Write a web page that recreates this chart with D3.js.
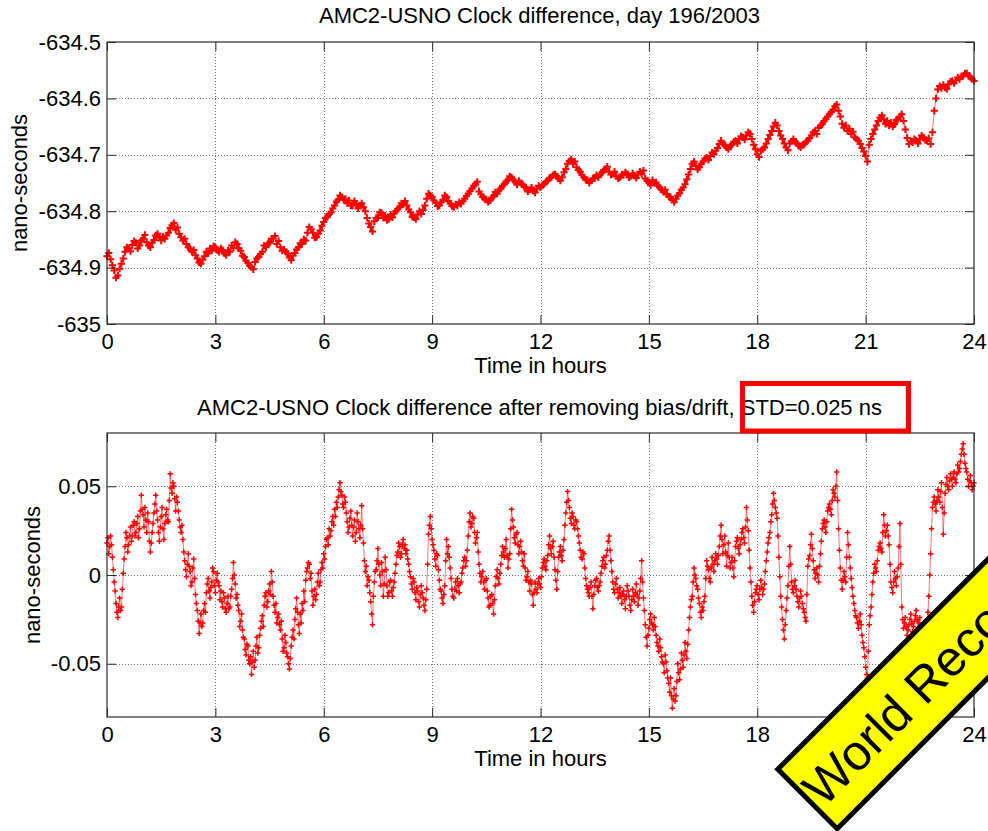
<!DOCTYPE html>
<html>
<head>
<meta charset="utf-8">
<script src="https://cdn.jsdelivr.net/npm/d3@7"></script>
<style>
  body { margin: 0; background: #fff; }
  svg { display: block; font-family: "Liberation Sans", Arial, sans-serif; }
</style>
</head>
<body>
<svg id="chart" width="988" height="831"></svg>
<script>
// ---- data ----
const hourTicks = [0, 3, 6, 9, 12, 15, 18, 21, 24];

// upper panel: raw clock difference (ns), one sample every 0.05 h from 0 to 24 h
const clockStep = 0.05;
const clockDiff = [
  -634.880, -634.874, -634.885, -634.896, -634.905, -634.918, -634.914, -634.902, -634.893, -634.884, -634.872, -634.864, -634.866, -634.871, -634.860, -634.853, -634.856, -634.866, -634.861, -634.852,
  -634.849, -634.842, -634.855, -634.861, -634.864, -634.856, -634.851, -634.843, -634.840, -634.847, -634.852, -634.845, -634.849, -634.843, -634.838, -634.830, -634.825, -634.821, -634.833, -634.829,
  -634.840, -634.846, -634.852, -634.849, -634.858, -634.864, -634.866, -634.872, -634.869, -634.878, -634.884, -634.891, -634.893, -634.886, -634.880, -634.872, -634.875, -634.866, -634.870, -634.862,
  -634.864, -634.869, -634.872, -634.866, -634.869, -634.875, -634.878, -634.870, -634.872, -634.861, -634.865, -634.855, -634.858, -634.866, -634.870, -634.879, -634.881, -634.888, -634.892, -634.897,
  -634.899, -634.903, -634.890, -634.884, -634.881, -634.876, -634.872, -634.861, -634.864, -634.858, -634.856, -634.849, -634.849, -634.844, -634.858, -634.853, -634.864, -634.870, -634.868, -634.872,
  -634.875, -634.882, -634.887, -634.879, -634.874, -634.868, -634.864, -634.857, -634.858, -634.850, -634.852, -634.838, -634.828, -634.832, -634.838, -634.847, -634.846, -634.840, -634.834, -634.826,
  -634.819, -634.812, -634.810, -634.805, -634.802, -634.795, -634.790, -634.783, -634.780, -634.772, -634.775, -634.780, -634.778, -634.786, -634.781, -634.790, -634.790, -634.782, -634.787, -634.795,
  -634.790, -634.786, -634.793, -634.800, -634.812, -634.822, -634.828, -634.836, -634.818, -634.812, -634.811, -634.802, -634.803, -634.812, -634.808, -634.816, -634.814, -634.806, -634.811, -634.804,
  -634.800, -634.796, -634.793, -634.786, -634.788, -634.782, -634.790, -634.797, -634.802, -634.810, -634.811, -634.814, -634.806, -634.800, -634.805, -634.798, -634.790, -634.778, -634.769, -634.772,
  -634.775, -634.781, -634.785, -634.791, -634.790, -634.784, -634.780, -634.772, -634.775, -634.782, -634.786, -634.791, -634.793, -634.788, -634.790, -634.784, -634.787, -634.782, -634.778, -634.773,
  -634.769, -634.764, -634.760, -634.755, -634.752, -634.748, -634.765, -634.770, -634.775, -634.778, -634.779, -634.784, -634.781, -634.776, -634.774, -634.766, -634.769, -634.763, -634.760, -634.755,
  -634.752, -634.747, -634.745, -634.738, -634.740, -634.745, -634.748, -634.753, -634.746, -634.750, -634.752, -634.757, -634.758, -634.765, -634.762, -634.758, -634.764, -634.767, -634.760, -634.755,
  -634.758, -634.754, -634.752, -634.748, -634.746, -634.741, -634.740, -634.736, -634.734, -634.738, -634.742, -634.746, -634.740, -634.731, -634.725, -634.716, -634.711, -634.708, -634.716, -634.712,
  -634.722, -634.727, -634.730, -634.736, -634.740, -634.744, -634.745, -634.750, -634.746, -634.742, -634.742, -634.736, -634.740, -634.735, -634.732, -634.727, -634.725, -634.721, -634.730, -634.735,
  -634.734, -634.730, -634.738, -634.742, -634.740, -634.735, -634.736, -634.731, -634.734, -634.740, -634.738, -634.733, -634.737, -634.741, -634.735, -634.730, -634.734, -634.728, -634.742, -634.746,
  -634.749, -634.754, -634.745, -634.750, -634.749, -634.755, -634.758, -634.762, -634.766, -634.762, -634.770, -634.774, -634.775, -634.780, -634.784, -634.778, -634.772, -634.768, -634.762, -634.758,
  -634.752, -634.744, -634.735, -634.725, -634.716, -634.712, -634.720, -634.726, -634.722, -634.716, -634.712, -634.707, -634.705, -634.709, -634.702, -634.696, -634.699, -634.693, -634.688, -634.681,
  -634.675, -634.680, -634.683, -634.687, -634.690, -634.685, -634.682, -634.677, -634.675, -634.680, -634.672, -634.667, -634.669, -634.673, -634.666, -634.660, -634.663, -634.672, -634.682, -634.690,
  -634.699, -634.704, -634.693, -634.690, -634.687, -634.680, -634.672, -634.665, -634.658, -634.650, -634.643, -634.648, -634.658, -634.666, -634.672, -634.680, -634.687, -634.692, -634.680, -634.676,
  -634.672, -634.677, -634.680, -634.684, -634.687, -634.683, -634.681, -634.677, -634.675, -634.670, -634.666, -634.660, -634.658, -634.663, -634.652, -634.648, -634.646, -634.640, -634.637, -634.632,
  -634.628, -634.624, -634.620, -634.614, -634.611, -634.622, -634.632, -634.645, -634.652, -634.648, -634.658, -634.654, -634.663, -634.659, -634.669, -634.672, -634.675, -634.681, -634.688, -634.694,
  -634.702, -634.712, -634.682, -634.672, -634.663, -634.655, -634.648, -634.640, -634.634, -634.630, -634.637, -634.645, -634.640, -634.648, -634.643, -634.650, -634.646, -634.638, -634.637, -634.632,
  -634.628, -634.640, -634.655, -634.670, -634.681, -634.676, -634.678, -634.672, -634.675, -634.680, -634.672, -634.666, -634.669, -634.674, -634.675, -634.671, -634.681, -634.660, -634.622, -634.600,
  -634.584, -634.578, -634.582, -634.576, -634.581, -634.583, -634.575, -634.570, -634.569, -634.573, -634.568, -634.563, -634.566, -634.561, -634.560, -634.556, -634.555, -634.560, -634.562, -634.566,
  -634.569
];
const clockTicks = [-635, -634.9, -634.8, -634.7, -634.6, -634.5];
const clockTickLabels = ["-635", "-634.9", "-634.8", "-634.7", "-634.6", "-634.5"];

// lower panel: residual after removing bias/drift (ns), one sample every 0.025 h
const residualStep = 0.025;
const residual = [
  .018, .021, .012, .016, .022, .017, .010, .003, -.004, -.009, -.016, -.021, -.024, -.018, -.013, -.020, -.018, -.008, .001, .009,
  .016, .024, .021, .013, .017, .022, .027, .019, .022, .028, .030, .022, .024, .029, .033, .021, .026, .036, .045, .037,
  .034, .027, .038, .031, .024, .035, .030, .019, .013, .018, .024, .029, .035, .040, .045, .036, .031, .024, .019, .027,
  .033, .038, .026, .020, .029, .034, .037, .031, .030, .042, .057, .049, .046, .052, .050, .043, .036, .044, .041, .036,
  .031, .027, .024, .028, .020, .013, .008, .003, -.001, .006, .012, .005, .002, -.006, -.004, .004, .009, -.002, -.011, -.016,
  -.020, -.026, -.033, -.027, -.022, -.029, -.027, -.020, -.016, -.021, -.010, -.005, -.002, -.009, -.013, -.007, -.004, .004, .002, -.006,
  -.010, -.003, .001, -.004, -.006, -.014, -.009, -.015, -.018, -.010, -.013, -.019, -.021, -.016, -.012, -.019, -.018, -.012, -.008, -.002,
  .007, .000, -.005, -.013, -.011, -.017, -.020, -.029, -.026, -.022, -.031, -.035, -.036, -.042, -.045, -.039, -.040, -.048, -.050, -.046,
  -.056, -.049, -.043, -.052, -.048, -.040, -.035, -.044, -.041, -.034, -.030, -.026, -.023, -.029, -.017, -.012, -.010, -.018, -.015, -.009,
  -.005, -.011, .002, -.004, -.012, -.017, -.021, -.016, -.027, -.024, -.022, -.028, -.031, -.026, -.036, -.043, -.041, -.034, -.038, -.044,
  -.046, -.050, -.053, -.047, -.040, -.035, -.031, -.036, -.025, -.019, -.013, -.021, -.028, -.033, -.022, -.027, -.016, -.020, -.009, -.015,
  -.003, .002, .004, .007, .006, -.002, .001, -.009, -.017, -.012, -.008, -.014, -.011, -.004, .001, -.006, -.004, .003, .007, .004,
  .012, .009, .016, .020, .021, .017, .026, .022, .025, .030, .033, .028, .037, .033, .041, .038, .044, .048, .052, .047,
  .045, .040, .038, .044, .041, .035, .030, .024, .027, .032, .036, .028, .022, .027, .031, .019, .024, .035, .030, .026,
  .021, .028, .039, .026, .018, .008, .002, .005, -.006, -.001, -.003, -.010, -.015, -.022, -.028, -.012, -.004, .002, .003, .008,
  .015, .006, .000, -.006, .007, .002, -.012, -.005, .010, .003, -.006, -.012, -.010, -.004, -.003, -.009, -.012, -.007, -.004, .001,
  .006, .011, .013, .018, .016, .010, .012, .017, .020, .015, .017, .012, .014, .009, .006, .002, -.001, -.005, -.008, -.002,
  -.004, -.010, -.014, -.007, -.009, -.015, -.018, -.011, -.006, -.010, -.013, -.017, -.020, -.014, -.008, .006, .023, .028, .033, .026,
  .020, .017, .014, .009, .005, .012, .011, .003, -.003, -.008, -.009, -.013, -.016, -.011, -.006, .008, .020, .012, .016, .010,
  .004, -.002, -.008, -.012, -.013, -.008, -.004, -.009, -.002, -.006, -.010, -.005, -.004, .001, .004, .008, .010, .005, .008, .014,
  .022, .030, .035, .027, .029, .033, .032, .024, .018, .021, .024, .013, .006, .001, -.004, -.001, .002, -.004, -.008, -.003,
  -.002, -.009, -.013, -.018, -.017, -.012, -.011, -.016, -.022, -.014, -.006, -.001, .003, -.002, -.005, .001, .006, .011, .016, .013,
  .010, .015, .020, .011, .004, .009, .012, .026, .037, .031, .027, .021, .018, .023, .024, .017, .012, .016, .019, .013,
  .008, .005, .012, .004, -.003, -.001, .002, -.004, -.009, -.003, -.005, -.011, -.017, -.010, -.004, -.008, -.010, -.005, -.002, -.005,
  -.007, -.001, .004, .007, .009, .005, .003, .008, .011, .017, .022, .015, .012, .016, .019, .010, .003, -.003, -.008, .002,
  .010, .013, .016, .011, .008, .014, .020, .028, .035, .041, .047, .042, .038, .032, .029, .035, .033, .028, .026, .031,
  .030, .026, .022, .018, .014, .010, .009, .013, .012, .004, -.002, -.006, -.008, -.010, -.012, -.007, -.004, -.012, -.019, -.011,
  -.006, -.003, -.002, -.007, -.009, -.006, -.004, .001, .005, .008, .010, .004, .006, .011, .014, .019, .022, .014, .008, .002,
  -.004, -.008, -.010, -.005, -.002, -.008, -.013, -.010, -.007, -.012, -.016, -.011, -.009, -.014, -.019, -.012, -.006, -.009, -.012, -.017,
  -.020, -.014, -.008, -.012, -.015, -.010, -.005, -.011, -.017, -.013, -.009, -.002, .008, -.004, -.013, -.020, -.028, -.035, -.040, -.034,
  -.030, -.025, -.022, -.027, -.028, -.031, -.024, -.029, -.034, -.038, -.040, -.043, -.036, -.041, -.046, -.049, -.050, -.055, -.045, -.049,
  -.054, -.058, -.061, -.066, -.058, -.068, -.075, -.070, -.064, -.071, -.068, -.060, -.050, -.055, -.059, -.053, -.044, -.048, -.052, -.045,
  -.038, -.043, -.047, -.039, -.031, -.024, -.018, -.014, -.012, -.004, .004, .000, -.002, -.006, -.008, -.013, -.016, -.021, -.024, -.018,
  -.020, -.015, -.012, -.002, .008, .005, .003, -.002, -.004, .004, .010, .006, .002, .008, .012, .009, .006, .011, .016, .022,
  .028, .020, .012, .017, .022, .013, .005, .011, .018, .010, .004, .007, .010, .004, -.001, .008, .016, .019, .021, .015,
  .012, .017, .020, .024, .026, .021, .018, .027, .038, .031, .025, .014, .004, -.004, -.012, -.017, -.021, -.015, -.010, -.008,
  -.006, -.011, -.014, -.008, -.003, -.007, -.011, -.008, -.005, .002, .008, .013, .018, .021, .024, .030, .034, .040, .046, .042,
  .038, .035, .032, .022, .010, -.001, -.012, -.018, -.025, -.031, -.036, -.028, -.020, -.013, -.006, .005, .016, .006, -.004, -.008,
  -.010, -.006, -.003, -.008, -.012, -.015, -.018, -.013, -.009, -.012, -.016, -.019, -.021, -.024, -.026, -.011, .005, .009, .011, .017,
  .023, .015, .008, .003, -.002, .001, .004, .000, -.004, .005, .012, .019, .026, .029, .031, .027, .024, .030, .036, .038,
  .040, .037, .034, .042, .048, .046, .044, .050, .058, .042, .026, .014, .004, -.003, -.008, -.003, .002, -.001, -.004, .010,
  .024, .017, .010, .004, -.002, -.007, -.012, -.016, -.020, -.023, -.024, -.027, -.030, -.026, -.022, -.028, -.034, -.038, -.041, -.046,
  -.052, -.056, -.058, -.043, -.028, -.023, -.018, -.011, -.004, .001, .006, .004, .002, .008, .014, .016, .018, .015, .013, .024,
  .034, .028, .022, .025, .028, .022, .017, .006, -.004, -.007, -.010, -.004, .002, -.002, -.006, -.001, .004, .016, .029, .006,
  -.018, -.025, -.030, -.027, -.024, -.029, -.034, -.031, -.028, -.025, -.022, -.027, -.032, -.029, -.026, -.023, -.020, -.025, -.030, -.027,
  -.024, -.029, -.034, -.031, -.028, -.032, -.036, -.033, -.029, -.021, -.012, .000, .012, .026, .038, .041, .044, .040, .036, .042,
  .048, .044, .041, .047, .052, .038, .023, .035, .046, .051, .055, .050, .048, .053, .057, .054, .050, .055, .058, .054,
  .052, .057, .062, .058, .060, .064, .068, .071, .074, .068, .063, .060, .058, .054, .050, .053, .056, .052, .048, .050,
  .052
];
const residualTicks = [-0.05, 0, 0.05];
const residualTickLabels = ["-0.05", "0", "0.05"];

// ---- drawing ----
const svg = d3.select("#chart");
const fontSize = 22;
const fontFamily = '"Liberation Sans", Arial, sans-serif';
const axisColor = "#2b2b2b";

function drawPanel(p) {
  const x = d3.scaleLinear().domain([0, 24]).range([p.left, p.right]);
  const y = d3.scaleLinear().domain(p.yDomain).range([p.bottom, p.top]);
  const g = svg.append("g");

  // dotted grid
  g.append("g").selectAll("line").data(hourTicks.slice(1, -1)).join("line")
    .attr("x1", d => Math.round(x(d)) + 0.5).attr("x2", d => Math.round(x(d)) + 0.5)
    .attr("y1", p.top).attr("y2", p.bottom)
    .attr("stroke", "#777").attr("stroke-width", 1).attr("stroke-dasharray", "1,2");
  g.append("g").selectAll("line").data(p.yTicks.filter(d => d > p.yDomain[0] && d < p.yDomain[1])).join("line")
    .attr("x1", p.left).attr("x2", p.right)
    .attr("y1", d => Math.round(y(d)) + 0.5).attr("y2", d => Math.round(y(d)) + 0.5)
    .attr("stroke", "#777").attr("stroke-width", 1).attr("stroke-dasharray", "1,2");

  // data: thin line plus '+' markers
  const line = d3.line().x((d, i) => x(i * p.step)).y(d => y(d));
  g.append("path").datum(p.values)
    .attr("d", line)
    .attr("fill", "none").attr("stroke", "#ff0000").attr("stroke-width", 0.9).attr("stroke-opacity", 0.6);
  const r = p.markerR;
  g.append("path")
    .attr("d", p.values.map((d, i) => {
      const cx = x(i * p.step), cy = y(d);
      return `M${cx - r},${cy}h${2 * r}M${cx},${cy - r}v${2 * r}`;
    }).join(""))
    .attr("fill", "none").attr("stroke", "#ff0000").attr("stroke-width", p.markerW);

  // axes with inward ticks (MATLAB style)
  const ax = g.append("g");
  ax.append("g").attr("transform", `translate(0,${p.bottom})`)
    .call(d3.axisBottom(x).tickValues(hourTicks).tickSize(-9).tickSizeOuter(0).tickPadding(9.5));
  ax.append("g").attr("transform", `translate(0,${p.top})`)
    .call(d3.axisTop(x).tickValues(hourTicks).tickSize(-9).tickSizeOuter(0).tickFormat(""));
  ax.append("g").attr("transform", `translate(${p.left},0)`)
    .call(d3.axisLeft(y).tickValues(p.yTicks).tickSize(-9).tickSizeOuter(0).tickPadding(6)
      .tickFormat((d, i) => p.yTickLabels[i]));
  ax.append("g").attr("transform", `translate(${p.right},0)`)
    .call(d3.axisRight(y).tickValues(p.yTicks).tickSize(-9).tickSizeOuter(0).tickFormat(""));
  ax.selectAll(".domain").remove();
  ax.selectAll(".tick line").attr("stroke", axisColor);
  ax.selectAll("text")
    .attr("font-size", fontSize).attr("font-family", fontFamily).attr("fill", "#000");

  g.append("rect")
    .attr("x", p.left).attr("y", p.top)
    .attr("width", p.right - p.left).attr("height", p.bottom - p.top)
    .attr("fill", "none").attr("stroke", axisColor).attr("stroke-width", 1.2);

  // labels
  g.append("text")
    .attr("x", (p.left + p.right) / 2).attr("y", p.bottom + 49)
    .attr("text-anchor", "middle").attr("font-size", fontSize)
    .text("Time in hours");
  g.append("text")
    .attr("transform", `translate(${p.yLabelX},${(p.top + p.bottom) / 2}) rotate(-90)`)
    .attr("text-anchor", "middle").attr("font-size", fontSize)
    .text("nano-seconds");
  g.append("text")
    .attr("x", (p.left + p.right) / 2 - 1).attr("y", p.titleY)
    .attr("text-anchor", "middle").attr("font-size", fontSize)
    .text(p.title);
}

drawPanel({
  left: 107, right: 974, top: 42, bottom: 324,
  yDomain: [-635, -634.5], yTicks: clockTicks, yTickLabels: clockTickLabels,
  values: clockDiff, step: clockStep, markerR: 3.6, markerW: 2,
  title: "AMC2-USNO Clock difference, day 196/2003", titleY: 23, yLabelX: 27
});

drawPanel({
  left: 107, right: 974, top: 433, bottom: 717,
  yDomain: [-0.08, 0.08], yTicks: residualTicks, yTickLabels: residualTickLabels,
  values: residual, step: residualStep, markerR: 2.7, markerW: 1.5,
  title: "AMC2-USNO Clock difference after removing bias/drift, STD=0.025 ns", titleY: 415, yLabelX: 40
});

// red highlight box around the STD value
svg.append("rect")
  .attr("x", 742.5).attr("y", 383.5).attr("width", 166).attr("height", 47.5)
  .attr("fill", "none").attr("stroke", "#ff0000").attr("stroke-width", 5);

// diagonal "World Record" banner in the lower right corner
const banner = svg.append("g").attr("transform", "translate(807.5,799) rotate(-45)");
banner.append("rect")
  .attr("x", 0).attr("y", -42).attr("width", 420).attr("height", 84)
  .attr("fill", "#ffff00").attr("stroke", "#000").attr("stroke-width", 5);
banner.append("text")
  .attr("x", 5).attr("y", 18).attr("font-size", 50)
  .attr("fill", "#000")
  .text("World Record");
</script>
</body>
</html>
